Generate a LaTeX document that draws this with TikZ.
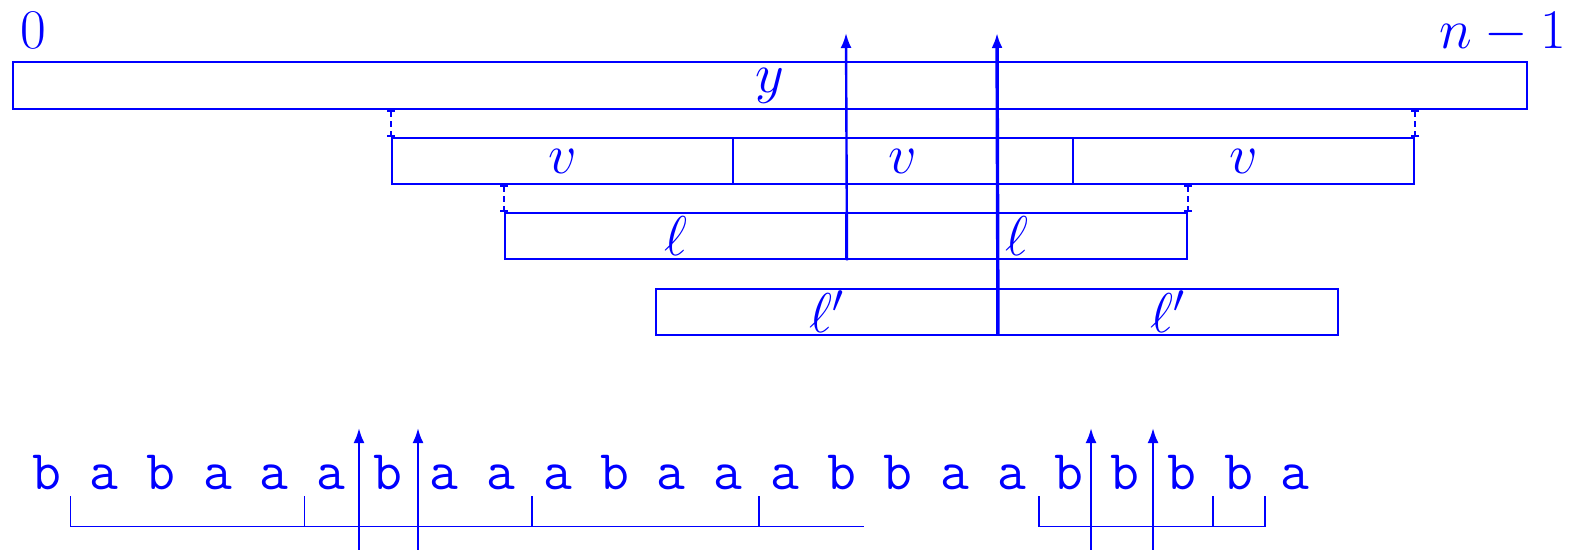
\RequirePackage{fix-cm}
\documentclass[tikz,border=0pt]{standalone}
\usetikzlibrary{arrows.meta}
\newcommand\bigf{\fontsize{28}{34}\selectfont}
\begin{document}
\begin{tikzpicture}[x=0.5pt,y=-0.5pt,
  lbl/.style={text=blue, font=\bigf, inner sep=0pt},
  seg/.style={draw=blue, line width=1pt, minimum width=170.3pt, minimum height=23pt, inner sep=0pt, text=blue, font=\bigf},
  seghalf/.style={seg, minimum width=170.5pt},
  upar/.style={draw=blue, line width=1.2pt, -{Latex[length=7.5pt,width=5.5pt]}},
  joiner/.style={draw=blue, line width=1pt, dash pattern=on 3pt off 2pt, {Bar[width=4pt,line width=1pt]}-{Bar[width=4pt,line width=1pt]}},
  brk/.style={draw=blue, line width=0.75pt},
  ch/.style={text=blue, font=\bigf\ttfamily, anchor=base, inner sep=0pt}]
\useasboundingbox (0,0) rectangle (1577,550);
% labels
\node[lbl] (zero) at (33,30) {$0$};
\node[lbl] (last) at (1503,33) {$n-1$};
% top box
\node[seg, minimum width=757pt, minimum height=23.5pt] (ybox) at (770,85.5) {$y$};
% v row
\node[seg] (v1) at (562.3,161) {$v$};
\node[seg] (v2) at (903,161) {$v$};
\node[seg] (v3) at (1243.7,161) {$v$};
% l row
\node[seghalf] (l1) at (675.5,236.3) {$\ell$};
\node[seghalf] (l2) at (1016.5,236.3) {$\ell$};
% l' row
\node[seghalf] (lp1) at (826.5,311.8) {$\ell'$};
\node[seghalf] (lp2) at (1167.5,311.8) {$\ell'$};
% dashed joiners
\draw[joiner] (ybox.south -| v1.north west) -- (v1.north west);
\draw[joiner] (ybox.south -| v3.north east) -- (v3.north east);
\draw[joiner] (v1.south -| l1.north west) -- (l1.north west);
\draw[joiner] (v1.south -| l2.north east) -- (l2.north east);
% arrows
\coordinate (t1) at (846,33);
\coordinate (t2) at (997,33);
\draw[upar] (l1.south east) -- (t1);
\draw[upar, line width=1.7pt] (lp1.south east) -- (t2);
% string
\foreach \c [count=\i] in {b,a,b,a,a,a,b,a,a,a,b,a,a,a,b,b,a,a,b,b,b,b,a}{
  \node[ch] (s\i) at ({47.3+56.73*(\i-1)},489) {\c};
}
% brackets
\draw[brk] (70.4,496) -- (70.4,526.5) -- (864,526.5);
\foreach \x in {304.7,532,759}{\draw[brk] (\x,496) -- (\x,526.5);}
\draw[brk] (1039,496) -- (1039,526.5) -- (1265,526.5) -- (1265,496);
\draw[brk] (1213,496) -- (1213,526.5);
% bottom arrows
\foreach \x [count=\k] in {359,418,1091,1153}{
  \coordinate (b\k) at (\x,552);
  \coordinate (bt\k) at (\x,428);
  \draw[upar] (b\k) -- (bt\k);
}
\end{tikzpicture}
\end{document}
